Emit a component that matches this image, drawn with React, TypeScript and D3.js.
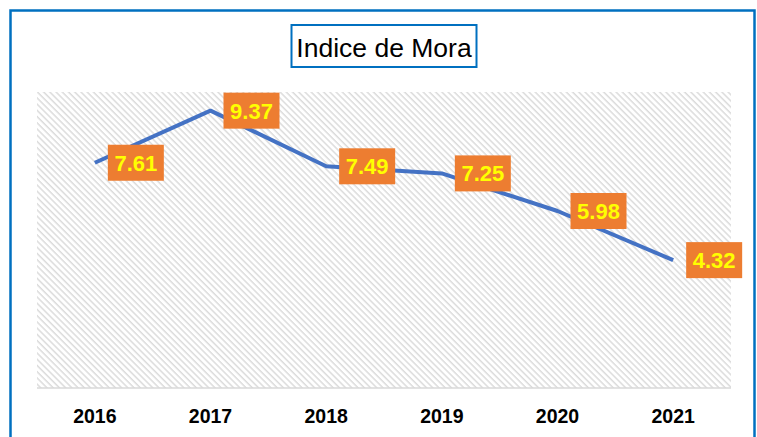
import React from "react";
import * as d3 from "d3";

const years = ["2016", "2017", "2018", "2019", "2020", "2021"];
const values = [7.61, 9.37, 7.49, 7.25, 5.98, 4.32];
const title = "Indice de Mora";

const W = 757;
const H = 437;
const plot = { left: 37, right: 731, top: 92, bottom: 388 };

export default function App() {
  const x = d3.scaleBand<string>().domain(years).range([plot.left, plot.right]);
  const y = d3.scaleLinear().domain([0, 10]).range([plot.bottom, plot.top]);
  const cx = (d: string) => (x(d) as number) + x.bandwidth() / 2;
  const line = d3
    .line<number>()
    .x((_, i) => cx(years[i]))
    .y((v) => y(v));

  const boxW = 56;
  const boxH = 36;

  return (
    <svg
      width={W}
      height={H}
      style={{ position: "absolute", left: 0, top: 0, background: "#fff" }}
    >
      <defs>
        <pattern
          id="hatch"
          width="4.4"
          height="4.4"
          patternUnits="userSpaceOnUse"
          patternTransform="rotate(-45)"
        >
          <rect width="4.4" height="4.4" fill="#ffffff" />
          <line x1="1" y1="0" x2="1" y2="4.4" stroke="#d9d9d9" strokeWidth="1.4" />
        </pattern>
      </defs>
      <rect x={0} y={0} width={W} height={H} fill="#fff" />
      <rect
        x={10.5}
        y={10.5}
        width={744}
        height={H + 20}
        fill="none"
        stroke="#0070C0"
        strokeWidth={2.5}
      />
      <rect x={291.5} y={25} width={185} height={42} fill="#fff" stroke="#0070C0" strokeWidth={2} />
      <text
        x={384}
        y={57}
        textAnchor="middle"
        fontFamily="'Liberation Sans', Arial, sans-serif"
        fontSize={26.5}
        fill="#000"
      >
        {title}
      </text>
      <rect
        x={plot.left}
        y={plot.top}
        width={plot.right - plot.left}
        height={plot.bottom - plot.top}
        fill="url(#hatch)"
      />
      <line
        x1={plot.left}
        x2={plot.right}
        y1={plot.bottom}
        y2={plot.bottom}
        stroke="#d9d9d9"
        strokeWidth={1.5}
      />
      {years.map((yr) => (
        <text
          key={yr}
          x={cx(yr)}
          y={423}
          textAnchor="middle"
          fontFamily="'Liberation Sans', Arial, sans-serif"
          fontWeight="bold"
          fontSize={19.5}
          fill="#000"
        >
          {yr}
        </text>
      ))}
      <path
        d={line(values) || ""}
        fill="none"
        stroke="#4472C4"
        strokeWidth={4}
        strokeLinejoin="round"
      />
      {values.map((v, i) => {
        const px = cx(years[i]);
        const py = y(v);
        const bx = px + 13;
        return (
          <g key={i}>
            <rect x={bx} y={py - boxH / 2} width={boxW} height={boxH} fill="#ED7D31" />
            <text
              x={bx + boxW / 2}
              y={py + 8}
              textAnchor="middle"
              fontFamily="'Liberation Sans', Arial, sans-serif"
              fontWeight="bold"
              fontSize={22}
              fill="#FFFF00"
            >
              {v.toFixed(2)}
            </text>
          </g>
        );
      })}
    </svg>
  );
}
